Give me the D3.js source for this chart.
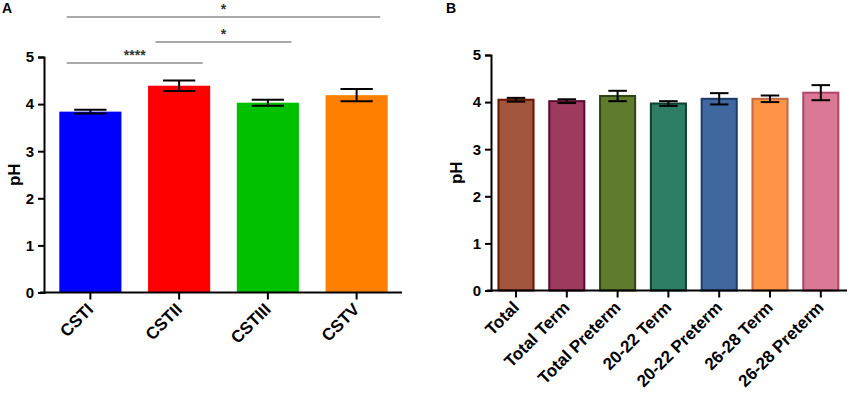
<!DOCTYPE html>
<html>
<head>
<meta charset="utf-8">
<script src="https://cdn.jsdelivr.net/npm/d3@7"></script>
<style>
  body { margin: 0; background: #fff; }
  svg { display: block; font-family: "Liberation Sans", Arial, sans-serif; font-weight: bold; }
</style>
</head>
<body>
<script>
// Panel A data
var catsA = ['CSTI', 'CSTII', 'CSTIII', 'CSTV'];
var meanA = [3.84, 4.39, 4.03, 4.19];
var errA = [0.04, 0.11, 0.065, 0.13];
var fillA = ['#0000ff', '#ff0000', '#00c000', '#ff8000'];
var sigA = [
  {from: 'CSTI', to: 'CSTII', label: '****', level: 0},
  {from: 'CSTII', to: 'CSTIII', label: '*', level: 1},
  {from: 'CSTI', to: 'CSTV', label: '*', level: 2}
];

// Panel B data
var catsB = ['Total', 'Total Term', 'Total Preterm', '20-22 Term', '20-22 Preterm', '26-28 Term', '26-28 Preterm'];
var meanB = [4.05, 4.02, 4.13, 3.97, 4.07, 4.07, 4.20];
var errB = [0.04, 0.04, 0.11, 0.05, 0.12, 0.07, 0.16];
var fillB = ['#a0553c', '#9e3a5e', '#5e7b2e', '#2e7e66', '#4068a0', '#ff9447', '#da7896'];
var strokeB = ['#6a1500', '#5a0a30', '#2f4512', '#0d3e2e', '#1e3a68', '#c56a40', '#b0456a'];

var yTicks = [0, 1, 2, 3, 4, 5];

var svg = d3.select('body').append('svg')
  .attr('width', 851)
  .attr('height', 399);

function drawPanel(opt) {
  var g = svg.append('g');
  var y = d3.scaleLinear().domain([0, 5]).range([opt.y0, opt.y5]);
  var x = d3.scaleBand().domain(opt.cats).range(opt.xRange)
    .paddingInner(opt.padIn).paddingOuter(opt.padOut);

  // bars
  g.selectAll('rect.bar')
    .data(opt.cats)
    .enter()
    .append('rect')
      .attr('class', 'bar')
      .attr('x', function(d) { return x(d) + (opt.strokes ? 1 : 0); })
      .attr('width', x.bandwidth() - (opt.strokes ? 2 : 0))
      .attr('y', function(d, i) { return y(opt.mean[i]); })
      .attr('height', function(d, i) { return y(0) - y(opt.mean[i]); })
      .attr('fill', function(d, i) { return opt.fills[i]; })
      .attr('stroke', function(d, i) { return opt.strokes ? opt.strokes[i] : 'none'; })
      .attr('stroke-width', 2);

  // error bars
  var capW = x.bandwidth() * opt.capRatio;
  var eb = g.selectAll('g.err')
    .data(opt.cats)
    .enter()
    .append('g')
      .attr('class', 'err')
      .attr('stroke', '#000')
      .attr('stroke-width', 2);
  eb.append('line')
    .attr('x1', function(d) { return x(d) + x.bandwidth() / 2; })
    .attr('x2', function(d) { return x(d) + x.bandwidth() / 2; })
    .attr('y1', function(d, i) { return y(opt.mean[i] + opt.err[i]); })
    .attr('y2', function(d, i) { return y(opt.mean[i] - opt.err[i]); });
  [1, -1].forEach(function(s) {
    eb.append('line')
      .attr('x1', function(d) { return x(d) + x.bandwidth() / 2 - capW / 2; })
      .attr('x2', function(d) { return x(d) + x.bandwidth() / 2 + capW / 2; })
      .attr('y1', function(d, i) { return y(opt.mean[i] + s * opt.err[i]); })
      .attr('y2', function(d, i) { return y(opt.mean[i] + s * opt.err[i]); });
  });

  // y axis
  var yAxis = g.append('g')
    .attr('transform', 'translate(' + opt.yAxisX + ',0)')
    .call(d3.axisLeft(y).tickValues(yTicks).tickFormat(d3.format('d')).tickSizeOuter(0).tickSize(6).tickPadding(4));
  yAxis.select('.domain').attr('stroke-width', 2);
  yAxis.selectAll('.tick line').attr('stroke-width', 2);
  yAxis.selectAll('.tick text')
    .style('font-size', '15px')
    .style('font-family', '"Liberation Sans", Arial, sans-serif')
    .style('font-weight', 'bold')
    .attr('fill', '#000');

  // x axis (ticks only, labels drawn below)
  var xAxis = g.append('g')
    .attr('transform', 'translate(0,' + y(0) + ')')
    .call(d3.axisBottom(x).tickSize(7).tickSizeOuter(0).tickFormat(''));
  xAxis.select('.domain')
    .attr('d', 'M' + (opt.yAxisX - 4) + ',0H' + opt.xEnd)
    .attr('stroke-width', 2);
  xAxis.selectAll('.tick line').attr('stroke-width', 2);

  g.selectAll('text.xlab')
    .data(opt.cats)
    .enter()
    .append('text')
      .attr('class', 'xlab')
      .attr('transform', function(d) {
        return 'translate(' + (x(d) + x.bandwidth() / 2 + 4) + ',' + (y(0) + 18) + ') rotate(-45)';
      })
      .attr('text-anchor', 'end')
      .style('font-size', '17px')
      .text(function(d) { return d; });

  // y label
  g.append('text')
    .attr('transform', 'translate(' + opt.yLabelX + ',' + (y(2.5)) + ') rotate(-90)')
    .attr('text-anchor', 'middle')
    .style('font-size', '17px')
    .text('pH');

  // panel letter
  g.append('text')
    .attr('x', opt.letterX)
    .attr('y', 13)
    .style('font-size', '14px')
    .text(opt.letter);

  return {x: x, y: y, g: g};
}

var pA = drawPanel({
  cats: catsA, mean: meanA, err: errA, fills: fillA, strokes: null,
  y0: 292.5, y5: 57, xRange: [46, 401], padIn: 0.3, padOut: 0.15,
  yAxisX: 44, xEnd: 402, capRatio: 0.52, yLabelX: 20,
  letter: 'A', letterX: 2
});

var pB = drawPanel({
  cats: catsB, mean: meanB, err: errB, fills: fillB, strokes: strokeB,
  y0: 290.5, y5: 55, xRange: [490.6, 846.2], padIn: 0.27, padOut: 0.135,
  yAxisX: 491, xEnd: 847, capRatio: 0.5, yLabelX: 462,
  letter: 'B', letterX: 446
});

// significance brackets in panel A
var sigY = [63, 42, 17];
var sig = pA.g.selectAll('g.sig')
  .data(sigA)
  .enter()
  .append('g')
    .attr('class', 'sig');
sig.append('line')
  .attr('x1', function(d) { return pA.x(d.from) + pA.x.bandwidth() * 0.12; })
  .attr('x2', function(d) { return pA.x(d.to) + pA.x.bandwidth() * 0.88; })
  .attr('y1', function(d) { return sigY[d.level]; })
  .attr('y2', function(d) { return sigY[d.level]; })
  .attr('stroke', '#555')
  .attr('stroke-width', 1.2);
sig.append('text')
  .attr('x', function(d) {
    return (pA.x(d.from) + pA.x.bandwidth() * 0.12 + pA.x(d.to) + pA.x.bandwidth() * 0.88) / 2;
  })
  .attr('y', function(d) { return sigY[d.level] - 3; })
  .attr('text-anchor', 'middle')
  .style('font-size', '14px')
  .attr('fill', '#333')
  .text(function(d) { return d.label; });
</script>
</body>
</html>
